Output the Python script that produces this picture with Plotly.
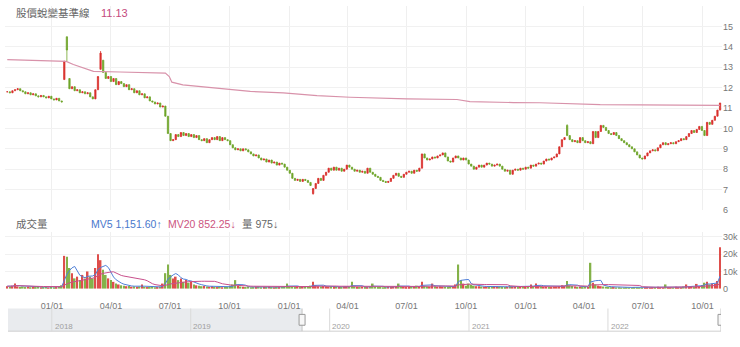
import pandas as pd
import plotly.graph_objects as go

W, H = 740, 347

# --- price / volume data (one bar every 4 days) ---
dates = pd.date_range("2019-10-24", "2022-10-28", freq="4D")

closes = [
    11.80, 11.75, 11.85, 11.90, 11.95, 11.85, 11.80, 11.70, 11.75, 11.65,
    11.70, 11.60, 11.55, 11.62, 11.55, 11.50, 11.58, 11.45, 11.40, 11.48,
    11.35, 11.30, 13.30, 13.85, 11.95, 12.05, 11.85, 11.90, 11.75, 11.80,
    11.70, 11.75, 11.55, 11.45, 11.90, 12.55, 13.70, 12.75, 12.45, 12.55,
    12.30, 12.45, 12.15, 12.30, 12.20, 12.05, 12.15, 11.90, 11.95, 11.75,
    11.85, 11.65, 11.70, 11.50, 11.55, 11.35, 11.30, 11.20, 11.25, 11.05,
    11.10, 10.60, 9.75, 9.40, 9.45, 9.70, 9.60, 9.80, 9.65, 9.75,
    9.60, 9.70, 9.55, 9.65, 9.45, 9.40, 9.50, 9.30, 9.45, 9.55,
    9.45, 9.60, 9.40, 9.55, 9.45, 9.40, 9.20, 9.05, 8.95, 9.00,
    8.90, 9.00, 8.95, 8.85, 8.75, 8.65, 8.70, 8.55, 8.45, 8.50,
    8.35, 8.45, 8.30, 8.35, 8.20, 8.30, 8.25, 8.10, 7.95, 7.80,
    7.55, 7.45, 7.50, 7.40, 7.50, 7.45, 7.35, 7.20, 7.05, 7.30,
    7.55, 7.45, 7.70, 7.85, 8.05, 7.95, 8.10, 7.95, 8.05, 7.90,
    8.00, 8.20, 8.10, 8.00, 7.90, 7.95, 7.85, 7.90, 7.80, 8.05,
    7.85, 7.75, 7.65, 7.60, 7.45, 7.40, 7.35, 7.40, 7.55, 7.70,
    7.80, 7.65, 7.60, 7.75, 7.85, 7.90, 7.80, 7.95, 7.90, 8.05,
    8.75, 8.55, 8.45, 8.50, 8.60, 8.55, 8.65, 8.70, 8.80, 8.60,
    8.40, 8.35, 8.55, 8.65, 8.55, 8.45, 8.55, 8.45, 8.25, 8.15,
    8.00, 8.10, 8.20, 8.10, 8.20, 8.30, 8.25, 8.15, 8.20, 8.25,
    8.15, 8.00, 7.90, 7.95, 7.75, 7.95, 8.00, 7.95, 8.05, 8.00,
    8.10, 8.05, 8.20, 8.15, 8.25, 8.30, 8.25, 8.40, 8.50, 8.45,
    8.55, 8.60, 8.75, 9.10, 9.45, 9.55, 9.65, 9.45, 9.35, 9.40,
    9.30, 9.55, 9.40, 9.30, 9.35, 9.25, 9.85, 9.55, 9.85, 10.15,
    10.05, 9.90, 9.75, 9.70, 9.80, 9.65, 9.50, 9.40, 9.30, 9.20,
    9.10, 9.00, 8.85, 8.70, 8.55, 8.50, 8.65, 8.80, 8.90, 8.95,
    8.90, 9.05, 9.20, 9.30, 9.20, 9.25, 9.30, 9.25, 9.35, 9.40,
    9.50, 9.45, 9.60, 9.75, 9.90, 9.80, 9.95, 10.10, 9.90, 9.65,
    10.30, 10.20, 10.40, 10.60, 10.90, 11.25,
]

# gapped opens and wick extremes (by bar index)
gap_opens = {22: 12.40, 23: 14.50, 24: 12.45, 36: 12.90, 37: 13.35, 118: 6.80, 216: 10.15}
wick_highs = {36: 13.80, 216: 10.20}
wick_lows = {23: 13.30, 118: 6.75}

volumes = [
    1500, 1200, 1800, 3000, 1400, 1100, 1300, 1000, 1200, 900,
    1100, 1000, 1300, 900, 1000, 1200, 800, 1100, 900, 1000,
    1200, 2000, 19000, 18500, 12000, 9000, 6000, 7000, 5000, 8000,
    6000, 10000, 7000, 6000, 12000, 20000, 16500, 11000, 8000, 6000,
    5000, 4000, 3000, 2500, 2000, 1800, 1500, 1600, 1200, 1400,
    1100, 1300, 2500, 1200, 1000, 1100, 1300, 900, 1000, 1200,
    3000, 9000, 14000, 8000, 6000, 7000, 5000, 6000, 4000, 5000,
    3500, 4000, 2500, 2000, 1800, 1500, 1600, 1300, 1200, 1400,
    1100, 1000, 1200, 900, 1000, 1100, 1800, 2500, 5000, 1800,
    1300, 1100, 1000, 1200, 900, 1000, 1100, 1300, 900, 1000,
    1100, 1200, 1000, 900, 1100, 1000, 1200, 1400, 3000, 1500,
    1300, 1100, 1200, 1000, 1400, 1200, 1300, 1800, 4000, 2000,
    1500, 1300, 1600, 1400, 1200, 1300, 1100, 1200, 1000, 1100,
    1300, 1500, 1200, 4000, 1400, 1100, 1000, 1200, 1100, 1000,
    1300, 3000, 1200, 1000, 1100, 900, 1000, 1200, 1100, 1300,
    1200, 3000, 1400, 1200, 1000, 1100, 1300, 1200, 1800, 1500,
    4000, 1600, 1400, 1300, 3000, 1500, 1200, 1400, 1300, 1200,
    1100, 1300, 1500, 2500, 14000, 5000, 3000, 1800, 3000, 2200,
    1800, 1500, 1400, 1300, 1200, 1300, 1100, 1200, 1400, 1300,
    1200, 1100, 1000, 1200, 1500, 1300, 1200, 1100, 1300, 1200,
    1100, 1300, 2500, 1500, 3000, 1600, 1400, 1200, 1300, 1100,
    1000, 1200, 1300, 1500, 2000, 1800, 4500, 2000, 1600, 1300,
    1100, 1200, 1000, 1300, 1100, 15000, 3500, 2500, 1800, 1500,
    1300, 1200, 1100, 900, 1000, 800, 900, 700, 800, 900,
    700, 800, 1000, 900, 800, 700, 900, 1000, 800, 900,
    1000, 1100, 900, 800, 2500, 1000, 900, 800, 1100, 1000,
    900, 1200, 2500, 1100, 1300, 1000, 2800, 1500, 2200, 3500,
    4000, 2500, 3000, 2800, 4500, 24000,
]

# 股價蛻變基準線 vertices
base_dates = [
    "2019-10-24", "2019-12-14", "2020-01-23", "2020-02-03", "2020-02-20",
    "2020-03-05", "2020-04-15", "2020-06-24", "2020-06-30", "2020-07-04",
    "2020-07-21", "2020-09-12", "2020-11-02", "2020-12-23", "2021-02-13",
    "2021-04-05", "2021-07-02", "2021-09-17", "2021-10-07", "2021-12-13",
    "2022-01-23", "2022-04-26", "2022-10-17", "2022-10-28",
]
base_values = [
    13.38, 13.34, 13.29, 13.14, 12.95,
    12.80, 12.77, 12.72, 12.55, 12.27,
    12.14, 11.98, 11.82, 11.75, 11.61,
    11.53, 11.45, 11.42, 11.32, 11.27,
    11.26, 11.17, 11.13, 11.13,
]

price_ticks = [6, 7, 8, 9, 10, 11, 12, 13, 14, 15]
vol_ticks = [0, 10000, 20000, 30000]
vol_tick_text = ["0", "10k", "20k", "30k"]
years = [2018, 2019, 2020, 2021, 2022]

# --- derived OHLC ---
opens = [closes[0]] + closes[:-1]
for i, v in gap_opens.items():
    opens[i] = v
highs = [max(o, c) for o, c in zip(opens, closes)]
lows = [min(o, c) for o, c in zip(opens, closes)]
for i, v in wick_highs.items():
    highs[i] = v
for i, v in wick_lows.items():
    lows[i] = v

RED = "#d9302c"
GREEN = "#6fa52a"
vol_colors = [RED if c >= o else GREEN for o, c in zip(opens, closes)]
vol = pd.Series(volumes, dtype=float)
mv5 = vol.rolling(5, min_periods=1).mean()
mv20 = vol.rolling(20, min_periods=1).mean()

main_range = ["2019-10-20 12:00", "2022-10-31"]
nav_range = ["2017-09-08", "2022-10-25"]


def fx(px):
    return px / W


def fy(px):
    return 1 - px / H


FONT = "Liberation Sans, Noto Sans CJK TC, sans-serif"

fig = go.Figure()
fig.add_trace(go.Candlestick(
    x=dates, open=opens, high=highs, low=lows, close=closes,
    xaxis="x", yaxis="y", whiskerwidth=0,
    increasing=dict(line=dict(color=RED, width=0.8), fillcolor=RED),
    decreasing=dict(line=dict(color=GREEN, width=0.8), fillcolor=GREEN),
    hoverinfo="skip", showlegend=False,
))
fig.add_trace(go.Scatter(
    x=base_dates, y=base_values, mode="lines", xaxis="x", yaxis="y",
    line=dict(color="#d892aa", width=1.2), hoverinfo="skip", showlegend=False,
))
fig.add_trace(go.Bar(
    x=dates, y=volumes, marker=dict(color=vol_colors, line=dict(width=0)),
    opacity=0.85, xaxis="x2", yaxis="y2", hoverinfo="skip", showlegend=False,
))
fig.add_trace(go.Scatter(
    x=dates, y=mv5, mode="lines", xaxis="x2", yaxis="y2",
    line=dict(color="#4f7fd8", width=1), hoverinfo="skip", showlegend=False,
))
fig.add_trace(go.Scatter(
    x=dates, y=mv20, mode="lines", xaxis="x2", yaxis="y2",
    line=dict(color="#c8508c", width=1), hoverinfo="skip", showlegend=False,
))
# navigator strip axis carrier
fig.add_trace(go.Scatter(
    x=nav_range, y=[0.5, 0.5], mode="lines", xaxis="x3", yaxis="y3",
    line=dict(width=0, color="rgba(0,0,0,0)"), hoverinfo="skip", showlegend=False,
))

grid = "#efefef"
xcommon = dict(
    type="date", range=main_range, domain=[fx(5), fx(722)],
    showgrid=True, gridcolor=grid, gridwidth=1, zeroline=False,
    tickformat="%m/%d", dtick="M3", tick0="2020-01-01",
    showline=False, rangeslider=dict(visible=False), fixedrange=True,
)

fig.update_layout(
    width=W, height=H,
    margin=dict(l=0, r=0, t=0, b=0),
    paper_bgcolor="white", plot_bgcolor="white",
    showlegend=False,
    boxgap=0.3, bargap=0.35,
    font=dict(family=FONT, size=9, color="#777"),
    xaxis=dict(xcommon, anchor="y", showticklabels=False),
    xaxis2=dict(xcommon, anchor="y2", showticklabels=True,
                ticks="outside", ticklen=8, tickcolor="rgba(0,0,0,0)",
                tickfont=dict(size=9, color="#777")),
    xaxis3=dict(type="date", range=nav_range, domain=[fx(8), fx(721)],
                anchor="y3", showticklabels=False, showgrid=False,
                zeroline=False, fixedrange=True),
    yaxis=dict(domain=[fy(213), fy(6.3)], range=[6, 16], side="right",
               anchor="x", tickvals=price_ticks, showgrid=True,
               gridcolor="#f1f1f1", zeroline=False, ticks="",
               tickfont=dict(size=9, color="#777"), fixedrange=True),
    yaxis2=dict(domain=[fy(293), fy(235)], range=[0, 33000], side="right",
                anchor="x2", tickvals=vol_ticks, ticktext=vol_tick_text,
                showgrid=True, gridcolor="#f1f1f1", zeroline=False, ticks="",
                tickfont=dict(size=9, color="#777"), fixedrange=True),
    yaxis3=dict(domain=[fy(336), fy(313)], range=[0, 1], anchor="x3",
                showticklabels=False, showgrid=False, zeroline=False,
                fixedrange=True),
)

# --- navigator decorations ---
shapes = [
    dict(type="rect", xref="x3", yref="paper", x0=nav_range[0], x1=main_range[0],
         y0=fy(336), y1=fy(313), fillcolor="#e9ebee", line=dict(width=0), layer="below"),
    dict(type="line", xref="x3", yref="paper", x0=nav_range[0], x1=nav_range[1],
         y0=fy(336), y1=fy(336), line=dict(color="#cfcfcf", width=1)),
    dict(type="line", xref="x3", yref="paper", x0=main_range[0], x1=main_range[0],
         y0=fy(336), y1=fy(313), line=dict(color="#c4c4c4", width=1)),
    dict(type="line", xref="x3", yref="paper", x0=nav_range[1], x1=nav_range[1],
         y0=fy(336), y1=fy(313), line=dict(color="#c4c4c4", width=1)),
]
for yr in years:
    shapes.append(dict(type="line", xref="x3", yref="paper",
                       x0=f"{yr}-01-01", x1=f"{yr}-01-01",
                       y0=fy(336), y1=fy(313), line=dict(color="#dadada", width=1)))
for anchor in (main_range[0], nav_range[1]):
    shapes.append(dict(type="rect", xref="x3", yref="paper", xsizemode="pixel",
                       xanchor=anchor, x0=-3, x1=3, y0=fy(330), y1=fy(319),
                       fillcolor="#f7f7f7", line=dict(color="#9a9a9a", width=1)))
fig.update_layout(shapes=shapes)

annotations = []
for yr in years:
    annotations.append(dict(xref="x3", yref="paper", x=f"{yr}-01-03", y=fy(331),
                            text=str(yr), showarrow=False, xanchor="left",
                            yanchor="middle", font=dict(size=8, color="#a0a0a0")))

LABEL = "Liberation Sans, Noto Sans CJK TC, sans-serif"
annotations += [
    dict(xref="paper", yref="paper", x=fx(14), y=fy(13), text="股價蛻變基準線",
         showarrow=False, xanchor="left", yanchor="middle",
         font=dict(family=LABEL, size=10.5, color="#666")),
    dict(xref="paper", yref="paper", x=fx(99), y=fy(13), text="11.13",
         showarrow=False, xanchor="left", yanchor="middle",
         font=dict(family=LABEL, size=11, color="#c44a7c")),
    dict(xref="paper", yref="paper", x=fx(14), y=fy(227), text="成交量",
         showarrow=False, xanchor="left", yanchor="middle",
         font=dict(family=LABEL, size=10.5, color="#666")),
    dict(xref="paper", yref="paper", x=fx(89), y=fy(227), text="MV5 1,151.60↑",
         showarrow=False, xanchor="left", yanchor="middle",
         font=dict(family=LABEL, size=10.5, color="#4a78cc")),
    dict(xref="paper", yref="paper", x=fx(166), y=fy(227), text="MV20 852.25↓",
         showarrow=False, xanchor="left", yanchor="middle",
         font=dict(family=LABEL, size=10.5, color="#cc5580")),
    dict(xref="paper", yref="paper", x=fx(240), y=fy(227), text="量 975↓",
         showarrow=False, xanchor="left", yanchor="middle",
         font=dict(family=LABEL, size=10.5, color="#666")),
]
fig.update_layout(annotations=annotations)

fig.write_html("out.html")
